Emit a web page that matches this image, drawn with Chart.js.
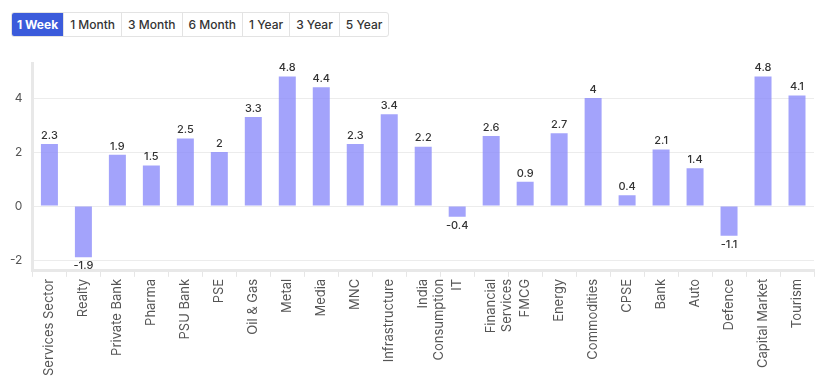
<!DOCTYPE html>
<html><head><meta charset="utf-8">
<script src="https://cdn.jsdelivr.net/npm/chart.js@4/dist/chart.umd.min.js"></script>
<style>
html,body{margin:0;padding:0;background:#fff;width:826px;height:388px;overflow:hidden;font-family:Inter,"Open Sans",sans-serif;}
#btns{position:absolute;left:11px;top:12px;display:flex;border:1px solid #e3e3e3;border-radius:3px;overflow:hidden;}
#btns div{height:23px;line-height:23px;padding:0 6px;font-size:12px;color:#333;border-left:1px solid #e3e3e3;font-weight:500;}
#btns div:first-child{border-left:none;}
#btns div.on{background:#3b5bdb;color:#fff;font-weight:700;padding:0 5px;}
#wrap{position:absolute;left:0;top:45px;width:826px;height:343px;}
</style></head><body>
<div id="btns"><div class="on">1 Week</div><div>1 Month</div><div>3 Month</div><div>6 Month</div><div>1 Year</div><div>3 Year</div><div>5 Year</div></div>
<div id="wrap"><canvas id="c"></canvas></div>
<script>
const categories = ["Services Sector","Realty","Private Bank","Pharma","PSU Bank","PSE","Oil & Gas","Metal","Media","MNC","Infrastructure",["India","Consumption"],"IT",["Financial","Services"],"FMCG","Energy","Commodities","CPSE","Bank","Auto","Defence","Capital Market","Tourism"];
const values = [2.3,-1.9,1.9,1.5,2.5,2,3.3,4.8,4.4,2.3,3.4,2.2,-0.4,2.6,0.9,2.7,4,0.4,2.1,1.4,-1.1,4.8,4.1];
const yTicks = [-2,0,2,4];

const labelPlugin = {
  id:'vals',
  afterDatasetsDraw(chart){
    const ctx = chart.ctx;
    const meta = chart.getDatasetMeta(0);
    ctx.save();
    ctx.font = '500 11px Inter, sans-serif';
    ctx.fillStyle = '#333';
    ctx.textAlign = 'center';
    meta.data.forEach((bar,i)=>{
      const v = values[i];
      if (v >= 0) { ctx.textBaseline='bottom'; ctx.fillText(String(v), bar.x, bar.y-3); }
      else { ctx.textBaseline='top'; ctx.fillText(String(v), bar.x, bar.y+3); }
    });
    ctx.restore();
  }
};

new Chart(document.getElementById('c'), {
  type:'bar',
  data:{labels:categories, datasets:[{data:values, backgroundColor:'rgba(140,140,250,0.8)', borderWidth:0, barPercentage:0.5, categoryPercentage:1}]},
  options:{
    responsive:true, maintainAspectRatio:false, animation:false,
    layout:{padding:{left:0,right:12,top:18,bottom:10}},
    plugins:{legend:{display:false}, tooltip:{enabled:false}},
    scales:{
      x:{
        grid:{display:true, drawOnChartArea:false, drawTicks:true, tickLength:6, color:'#e6e6e6'},
        border:{display:true, color:'#e8e8e8', width:3},
        ticks:{color:'#555', font:{size:13, family:'Inter, sans-serif'}, maxRotation:90, minRotation:90, autoSkip:false, padding:2}
      },
      y:{
        min:-2.4, max:5.3,
        afterBuildTicks(axis){ axis.ticks = yTicks.map(v=>({value:v})); },
        grid:{color:'#ececec', drawTicks:false},
        border:{display:true, color:'#e8e8e8', width:3},
        ticks:{color:'#555', font:{size:12, family:'Inter, sans-serif'}, padding:10}
      }
    }
  },
  plugins:[labelPlugin]
});
</script></body></html>
